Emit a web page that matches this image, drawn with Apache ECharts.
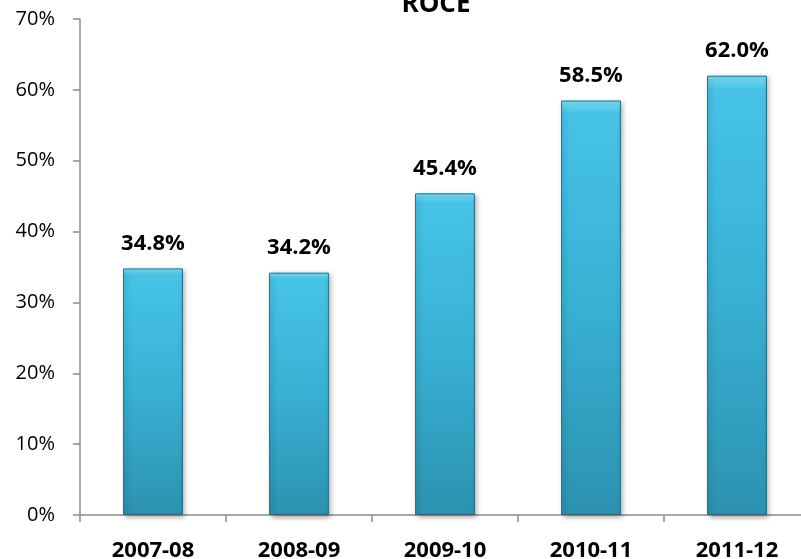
<!DOCTYPE html>
<html>
<head>
<meta charset="utf-8">
<script src="https://cdn.jsdelivr.net/npm/echarts@6/dist/echarts.min.js"></script>
<style>html,body{margin:0;padding:0;background:#fff;overflow:hidden;}#c{width:801px;height:559px;}</style>
</head>
<body>
<div id="c"></div>
<script>
const title = 'ROCE';
const categories = ['2007-08', '2008-09', '2009-10', '2010-11', '2011-12'];
const roce = [34.8, 34.2, 45.4, 58.5, 62.0];
const yTicks = { min: 0, max: 70, interval: 10 };

const chart = echarts.init(document.getElementById('c'));
chart.setOption({
  animation: false,
  backgroundColor: '#ffffff',
  title: {
    text: title,
    left: 431,
    top: -13,
    textAlign: 'center',
    textStyle: { fontFamily: 'Open Sans', fontWeight: 'bold', fontSize: 26, color: '#000' }
  },
  grid: { left: 80, top: 19, bottom: 44, right: -9, containLabel: false, outerBoundsMode: 'none' },
  xAxis: {
    type: 'category',
    data: categories,
    axisLine: { show: true, lineStyle: { color: '#8c8c8c', width: 1.5 } },
    axisTick: { show: true, alignWithLabel: false, length: 7, lineStyle: { color: '#8c8c8c', width: 1.5 } },
    axisLabel: { margin: 25, fontFamily: 'Open Sans', fontWeight: 'bold', fontSize: 22, color: '#000' }
  },
  yAxis: {
    type: 'value',
    min: yTicks.min, max: yTicks.max, interval: yTicks.interval,
    axisLine: { show: true, lineStyle: { color: '#8c8c8c', width: 1.5 } },
    axisTick: { show: true, length: 7, lineStyle: { color: '#8c8c8c', width: 1.5 } },
    splitLine: { show: false },
    axisLabel: { margin: 25, fontFamily: 'Open Sans', fontSize: 20, color: '#000', formatter: '{value}%' }
  },
  series: [{
    type: 'bar',
    data: roce,
    barWidth: '41%',
    itemStyle: {
      color: {
        type: 'linear', x: 0, y: 0, x2: 0, y2: 1,
        colorStops: [
          { offset: 0, color: '#86def4' },
          { offset: 0.03, color: '#46c3e7' },
          { offset: 0.5, color: '#38b0d4' },
          { offset: 1, color: '#2c92b0' }
        ]
      },
      borderColor: '#1f6f86',
      borderWidth: 1,
      shadowColor: 'rgba(0,0,0,0.35)',
      shadowBlur: 5,
      shadowOffsetX: 2,
      shadowOffsetY: 2
    },
    label: {
      show: true,
      position: 'top',
      distance: 14,
      fontFamily: 'Open Sans',
      fontWeight: 'bold',
      fontSize: 22,
      color: '#000',
      formatter: p => p.value.toFixed(1) + '%'
    }
  }]
});
</script>
</body>
</html>
